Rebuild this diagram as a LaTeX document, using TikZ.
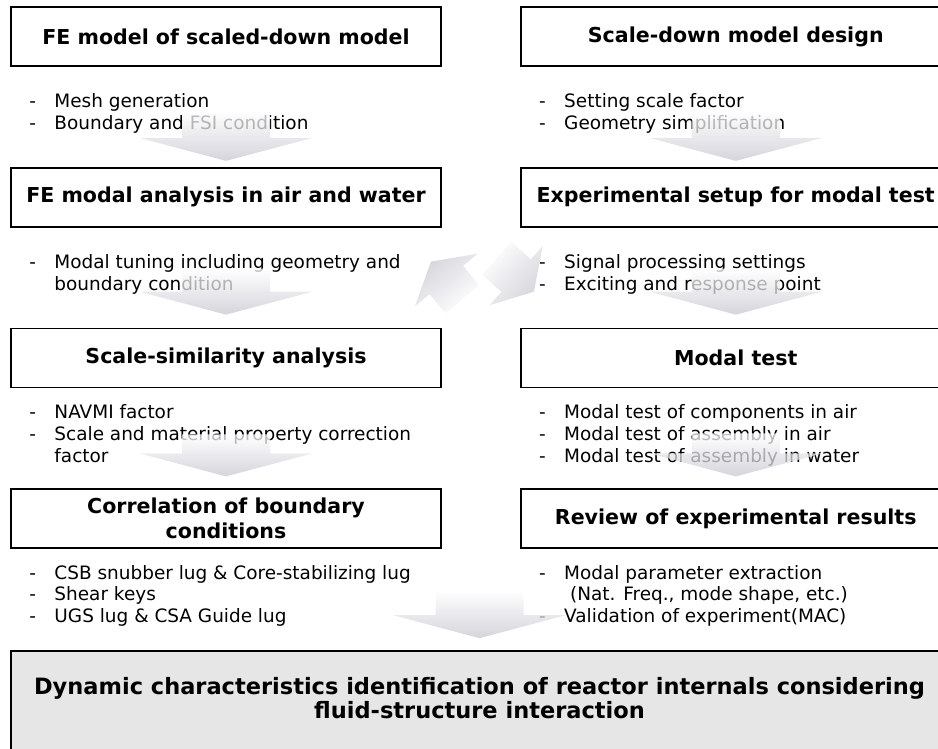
\documentclass[tikz,border=0pt]{standalone}
\usepackage{fontspec}
\setmainfont{DejaVu Sans}
\usetikzlibrary{positioning}
\usetikzlibrary{calc}
\definecolor{arrgray}{RGB}{198,198,208}
\definecolor{boxgray}{RGB}{230,230,230}

\newcommand{\itm}[1]{\makebox[0.5cm][l]{-}#1}
\newcommand{\cnt}[1]{\hspace*{0.5cm}#1}

\tikzset{
  pics/blkarrow/.style n args={4}{code={
    \shade[pic actions] (0,0) -- (-#4,#3) -- (-#4,#2) -- (-#1,#2) -- (-#1,-#2) -- (-#4,-#2) -- (-#4,-#3) -- cycle;
  }}
}

\begin{document}
\begin{tikzpicture}[
  box/.style={draw, line width=1pt, minimum width=8.6cm, minimum height=1.18cm, inner sep=0pt, align=center, font=\fontsize{11.7}{14.2}\selectfont\bfseries},
  lst/.style={inner sep=0pt, align=left, font=\fontsize{10.5}{12.5}\selectfont},
  dnarr/.style={rotate=-90, top color=white, bottom color=arrgray, opacity=0.75},
]

\useasboundingbox (0,0) rectangle (18.76,-14.98);
\clip (0,0) rectangle (18.76,-14.98);

%left column
\node[box] (fe) at (4.52,-0.73) {FE model of scaled-down model};
\node[box, below=2cm of fe] (fem) {FE modal analysis in air and water};
\node[box, below=2cm of fem] (sim) {Scale-similarity analysis};
\node[box, below=2cm of sim] (cor) {Correlation of boundary\\conditions};

%right column
\node[box, right=1.56cm of fe] (sdm) {Scale-down model design};
\node[box, below=2cm of sdm] (exp) {Experimental setup for modal test};
\node[box, below=2cm of exp] (mt) {Modal test};
\node[box, below=2cm of mt] (rev) {Review of experimental results};

%final box
\node[box, fill=boxgray, minimum width=18.74cm, minimum height=2.4cm,
  below=2.02cm of cor.south west, anchor=north west] (dyn) {};
\node[inner sep=0pt, align=center, font=\fontsize{12.8}{13.4}\selectfont\bfseries] (dyntxt)
  at ($(dyn.north)+(0,-0.96)$)
{Dynamic characteristics identification of reactor internals considering\\fluid-structure interaction};

% lists
{
\node[lst, below right=0.53cm and 0.38cm of fe.south west] (fel)
{\itm{Mesh generation}\\\itm{Boundary and FSI condition}};
\node[lst, below right=0.53cm and 0.38cm of fem.south west] (feml)
{\itm{Modal tuning including geometry and}\\\cnt{boundary condition}};
\node[lst, below right=0.31cm and 0.38cm of sim.south west] (siml)
{\itm{NAVMI factor}\\\itm{Scale and material property correction}\\\cnt{factor}};
\node[lst, below right=0.31cm and 0.38cm of cor.south west] (corl)
{\itm{CSB snubber lug \& Core-stabilizing lug}\\\itm{Shear keys}\\\itm{UGS lug \& CSA Guide lug}};

\node[lst, below right=0.53cm and 0.38cm of sdm.south west] (sdml)
{\itm{Setting scale factor}\\\itm{Geometry simplification}};
\node[lst, below right=0.53cm and 0.38cm of exp.south west] (expl)
{\itm{Signal processing settings}\\\itm{Exciting and response point}};
\node[lst, below right=0.31cm and 0.38cm of mt.south west] (mtl)
{\itm{Modal test of components in air}\\\itm{Modal test of assembly in air}\\\itm{Modal test of assembly in water}};
\node[lst, below right=0.31cm and 0.38cm of rev.south west] (revl)
{\itm{Modal parameter extraction}\\\cnt{\ (Nat. Freq., mode shape, etc.)}\\\itm{Validation of experiment(MAC)}};
}

%block arrows
\pic[dnarr] at ($(fem.north)+(0,0.12)$) {blkarrow={1.0}{0.88}{1.73}{0.46}};
\pic[dnarr] at ($(sim.north)+(0,0.26)$) {blkarrow={0.92}{0.88}{1.73}{0.46}};
\pic[dnarr] at ($(cor.north)+(0,0.24)$) {blkarrow={0.84}{0.88}{1.73}{0.46}};

\pic[dnarr] at ($(exp.north)+(0,0.12)$) {blkarrow={1.0}{0.88}{1.73}{0.46}};
\pic[dnarr] at ($(mt.north)+(0,0.26)$) {blkarrow={0.92}{0.88}{1.73}{0.46}};
\pic[dnarr] at ($(rev.north)+(0,0.24)$) {blkarrow={0.86}{0.88}{1.73}{0.46}};

\pic[dnarr] at ($(dyn.north)+(0,0.24)$) {blkarrow={0.96}{0.88}{1.73}{0.46}};

\pic[rotate=130, top color=arrgray, bottom color=white, shading angle=40, opacity=0.75]
  at ($(fem.south east)+(-0.22,-0.68)$) {blkarrow={0.98}{0.44}{0.82}{0.48}};
\pic[rotate=-42, top color=arrgray, bottom color=white, shading angle=-132, opacity=0.75]
  at ($(exp.south west)+(0.28,-1.28)$) {blkarrow={1.0}{0.44}{0.8}{0.48}};

\end{tikzpicture}
\end{document}
